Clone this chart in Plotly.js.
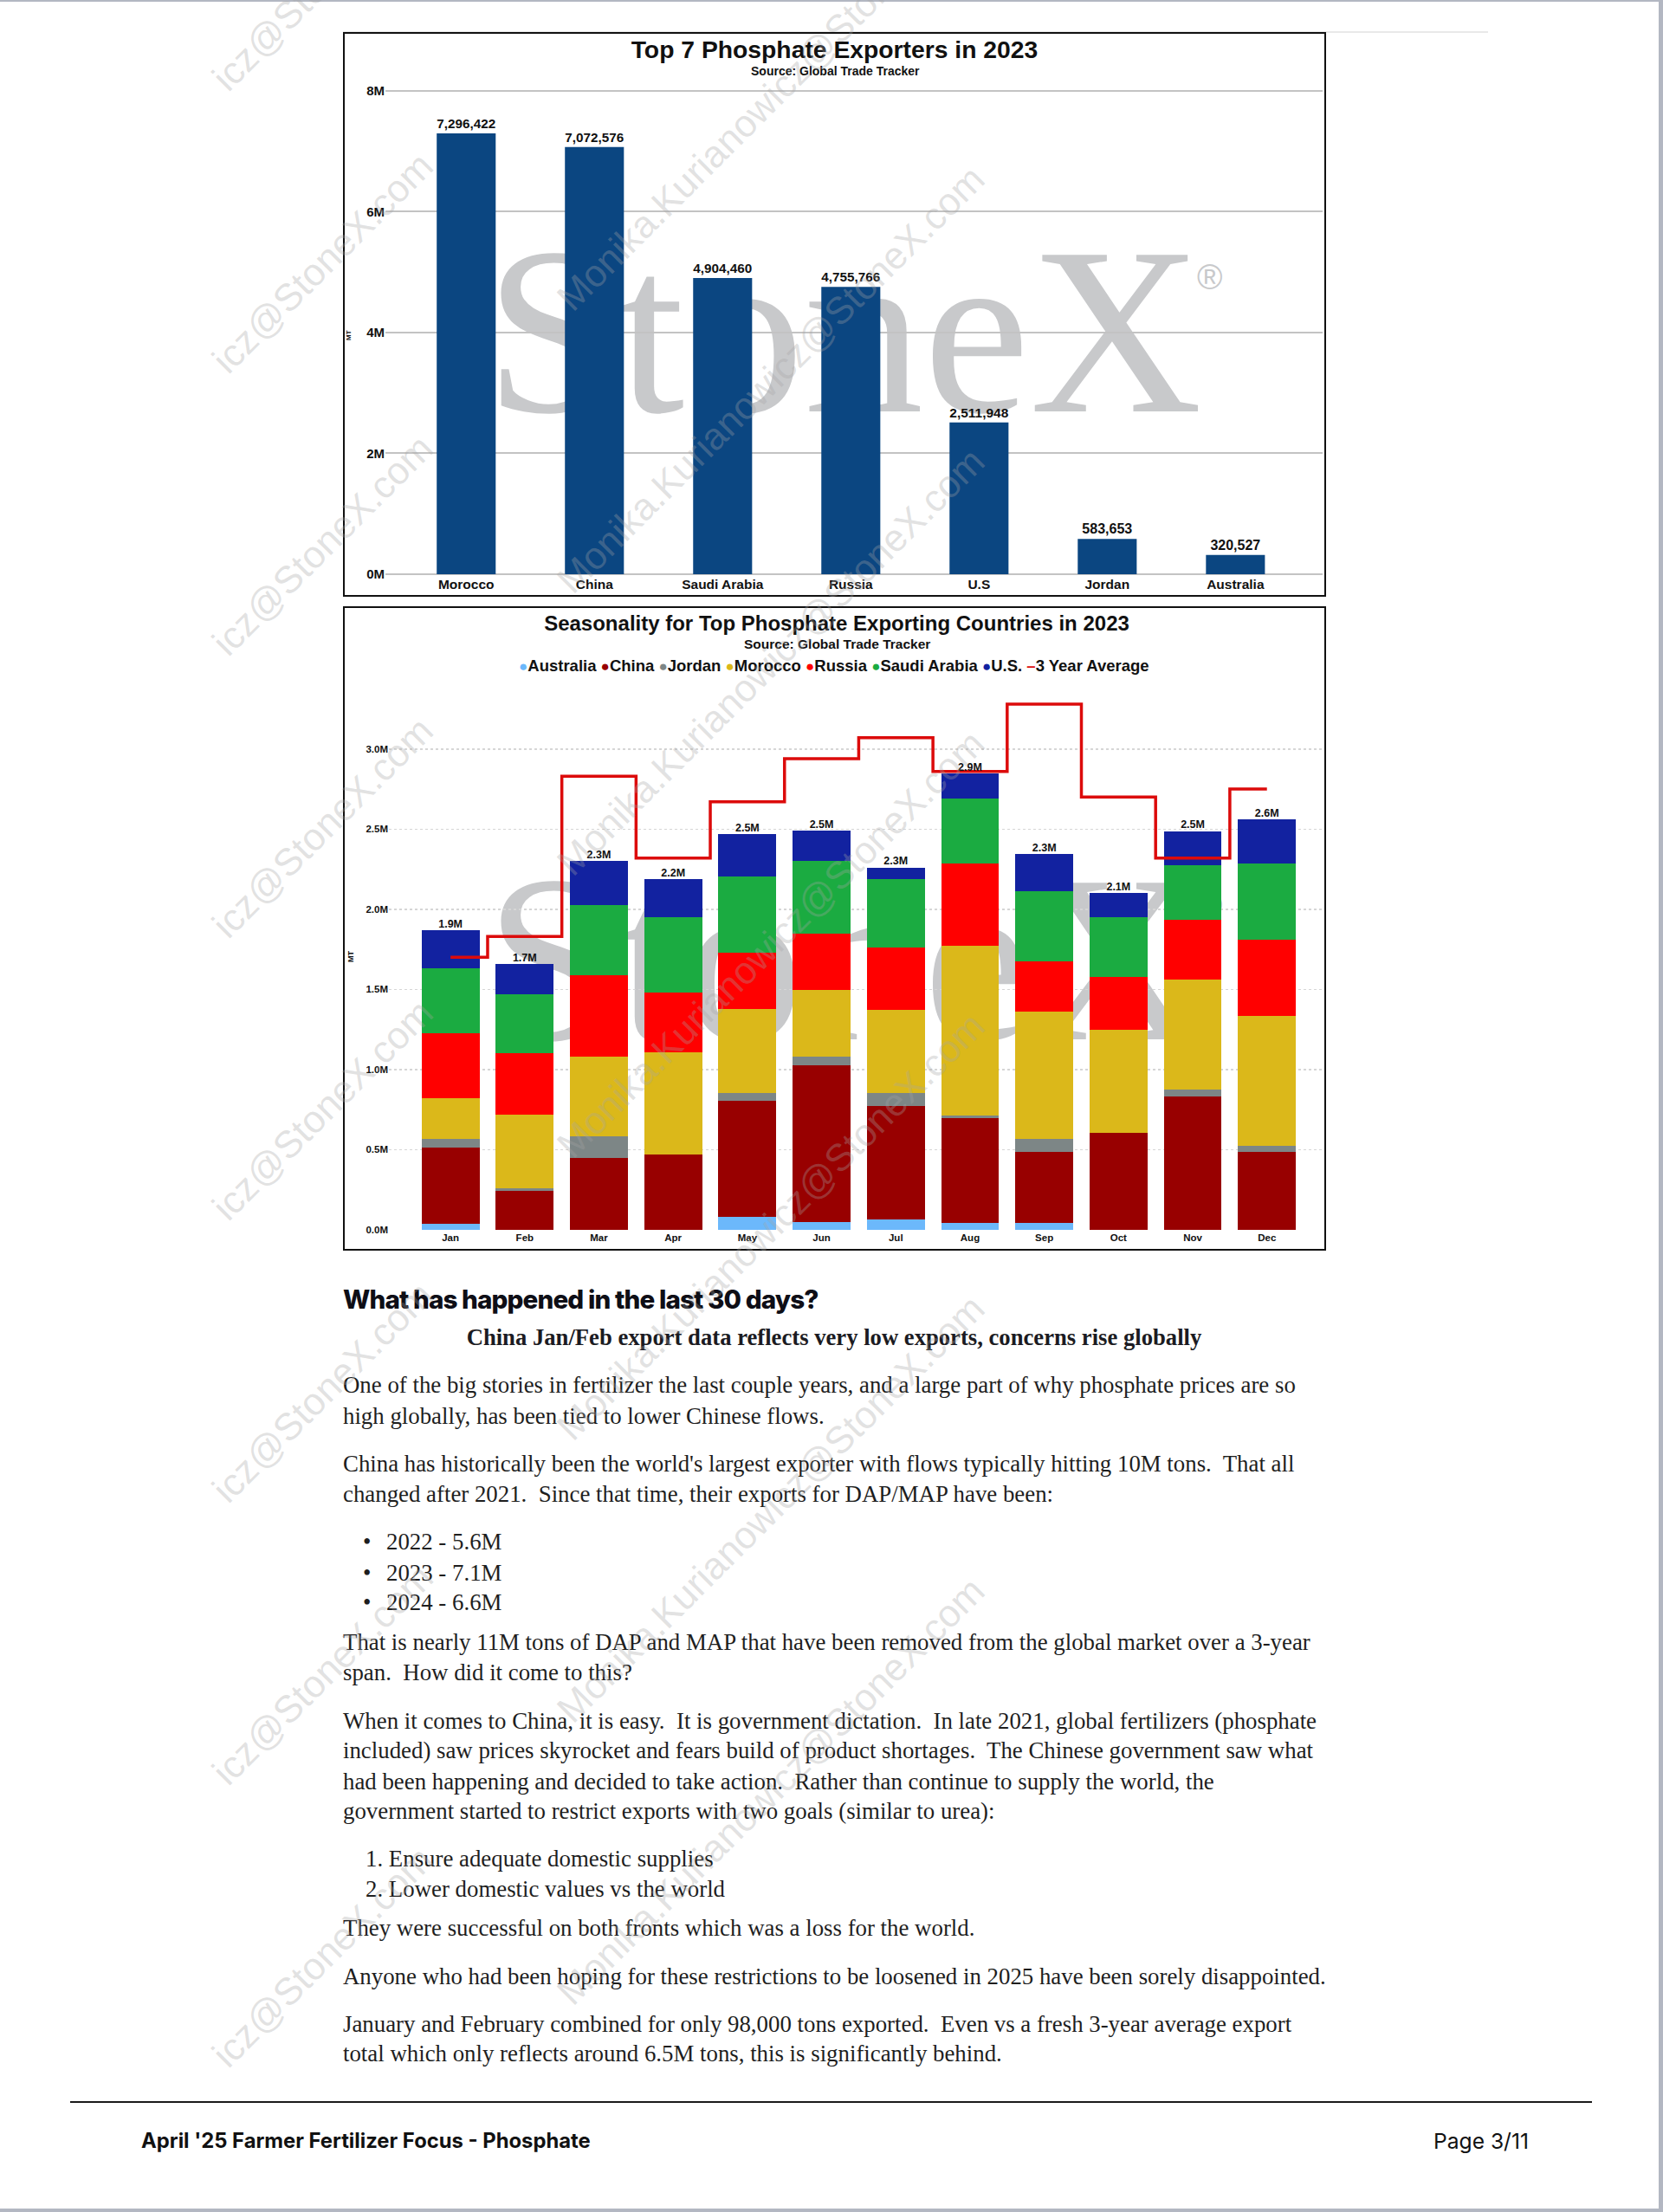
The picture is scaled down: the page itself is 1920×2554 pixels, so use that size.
<!DOCTYPE html>
<html>
<head>
<meta charset="utf-8">
<script src="https://cdn.plot.ly/plotly-3.0.1.min.js"></script>
<style>
html,body{margin:0;padding:0;background:#fff;}
body{width:1920px;height:2554px;position:relative;overflow:hidden;}
.abs{position:absolute;white-space:nowrap;}
.edge{position:absolute;background:#b3b7c2;}
.logo{position:absolute;font-family:'Liberation Serif','Times New Roman',serif;color:#c8c9cb;font-size:276px;line-height:276px;white-space:nowrap;z-index:0;}
.reg{position:absolute;font-family:'Liberation Sans',Arial,sans-serif;color:#c8c9cb;font-size:40px;line-height:40px;z-index:0;}
.plot{position:absolute;z-index:1;}
.frame{position:absolute;border:2px solid #111;box-sizing:border-box;z-index:2;pointer-events:none;}
.body{font-family:'Liberation Serif',serif;color:#1e1e1e;font-size:24px;line-height:36px;height:36px;}
#wm{position:absolute;left:0;top:0;width:1920px;height:2554px;z-index:5;pointer-events:none;}
.wmt{position:absolute;white-space:nowrap;font-family:'Liberation Sans',Arial,sans-serif;font-size:44px;line-height:50px;height:50px;color:rgba(165,165,165,0.33);transform-origin:0 50%;transform:rotate(-45deg);}
</style>
</head>
<body>
<div class="edge" style="left:0;top:0;width:1920px;height:2px;"></div>
<div class="edge" style="right:0;top:0;width:5px;height:2554px;"></div>
<div class="edge" style="left:0;bottom:0;width:1920px;height:4px;"></div>
<div style="position:absolute;left:396px;top:36px;width:1322px;height:2px;background:#e9e9e9;"></div>

<!-- StoneX logo watermarks behind charts -->
<div class="logo" style="left:560px;top:244px;">StoneX</div>
<div class="reg" style="left:1382px;top:300px;">®</div>
<div class="logo" style="left:560px;top:969px;">StoneX</div>
<div class="reg" style="left:1382px;top:1025px;">®</div>

<div id="chart1" class="plot" style="left:396px;top:37px;width:1135px;height:652px;"></div>
<div class="frame" style="left:396px;top:37px;width:1135px;height:652px;"></div>
<div id="chart2" class="plot" style="left:396px;top:700px;width:1135px;height:744px;"></div>
<div class="frame" style="left:396px;top:700px;width:1135px;height:744px;"></div>

<div id="text"></div>
<div id="wm"></div>

<div style="position:absolute;left:81px;top:2426px;width:1757px;height:2px;background:#1a1a1a;"></div>
<div id="footL" class="abs" style="left:163px;top:2458px;font-family:Inter,sans-serif;font-weight:700;font-size:22px;line-height:28px;color:#111;">April '25 Farmer Fertilizer Focus - Phosphate</div>
<div id="footR" class="abs" style="left:1655px;top:2458px;font-family:Inter,sans-serif;font-weight:400;font-size:22px;line-height:28px;color:#111;">Page 3/11</div>

<script>
// ---------- Chart 1 data ----------
const exporters = ['Morocco','China','Saudi Arabia','Russia','U.S','Jordan','Australia'];
const exportVolumes = [7296422,7072576,4904460,4755766,2511948,583653,320527];
const chart1Ticks = [0,2000000,4000000,6000000,8000000];
const chart1TickText = ['0M','2M','4M','6M','8M'];

// ---------- Chart 2 data (million MT) ----------
const months = ['Jan','Feb','Mar','Apr','May','Jun','Jul','Aug','Sep','Oct','Nov','Dec'];
const australia = [0.040,0.000,0.000,0.000,0.081,0.049,0.063,0.045,0.041,0.000,0.000,0.000];
const china     = [0.473,0.243,0.448,0.468,0.725,0.976,0.707,0.651,0.448,0.603,0.831,0.489];
const jordan    = [0.052,0.014,0.133,0.000,0.048,0.054,0.083,0.018,0.078,0.000,0.045,0.033];
const morocco   = [0.259,0.463,0.498,0.642,0.526,0.419,0.518,1.058,0.797,0.647,0.684,0.813];
const russia    = [0.405,0.383,0.509,0.370,0.351,0.351,0.392,0.516,0.313,0.329,0.377,0.477];
const saudi     = [0.404,0.369,0.439,0.472,0.473,0.454,0.428,0.401,0.437,0.369,0.339,0.473];
const usa       = [0.238,0.187,0.276,0.237,0.266,0.189,0.070,0.159,0.230,0.153,0.212,0.278];
const threeYearAvg = [1.70,1.83,2.83,2.32,2.67,2.94,3.07,2.86,3.28,2.70,2.32,2.75];
const totalLabels = ['1.9M','1.7M','2.3M','2.2M','2.5M','2.5M','2.3M','2.9M','2.3M','2.1M','2.5M','2.6M'];
const chart2Ticks = [0,0.5,1.0,1.5,2.0,2.5,3.0];
const chart2TickText = ['0.0M','0.5M','1.0M','1.5M','2.0M','2.5M','3.0M'];

const seriesNames = ['Australia','China','Jordan','Morocco','Russia','Saudi Arabia','U.S.'];
const seriesColors = ['#6cb8fb','#980000','#7d8686','#dbb81a','#ff0000','#1bab41','#1222a0'];
const seriesValues = [australia,china,jordan,morocco,russia,saudi,usa];
const avgName = '3 Year Average';
const avgColor = '#dc0b0b';

const FONT = 'Liberation Sans, Arial, Helvetica, sans-serif';
const cfg = {staticPlot:true, displayModeBar:false};

// ---------- Chart 1 ----------
(function(){
  const W=1135,H=652, l=49,r=4,t=61,b=26;
  const pw=W-l-r, ph=H-t-b;
  const trace = {
    type:'bar', x:exporters, y:exportVolumes, width:0.46,
    marker:{color:'#0b4681'},
    texttemplate:'%{y:,}', textposition:'outside', cliponaxis:false,
    textfont:{family:FONT,size:16,color:'#111',weight:700},
    hoverinfo:'skip'
  };
  const layout = {
    width:W,height:H, margin:{l:l,r:r,t:t,b:b},
    paper_bgcolor:'rgba(0,0,0,0)', plot_bgcolor:'rgba(0,0,0,0)',
    showlegend:false,
    title:{text:'Top 7 Phosphate Exporters in 2023', font:{family:FONT,size:28.3,color:'#111',weight:700},
           xref:'container', x:0.5, yref:'container', y:1-20/H, yanchor:'middle'},
    xaxis:{range:[-0.63,6.68], showgrid:false, showline:false, zeroline:false, ticks:'',
           tickfont:{family:FONT,size:15.5,color:'#111',weight:700}},
    yaxis:{range:[0,8100000], tickvals:chart1Ticks, ticktext:chart1TickText,
           gridcolor:'#c3c3c3', gridwidth:2, zeroline:true, zerolinecolor:'#c3c3c3', zerolinewidth:2,
           showline:false, ticks:'', tickfont:{family:FONT,size:15,color:'#111',weight:700}},
    annotations:[
      {text:'Source: Global Trade Tracker', xref:'paper', yref:'paper', x:(964-445)/pw, y:(663-82)/ph,
       xanchor:'center', yanchor:'middle', showarrow:false, font:{family:FONT,size:14,color:'#111',weight:700}},
      {text:'MT', xref:'paper', yref:'paper', x:(402-445)/pw, y:(663-387)/ph, textangle:-90,
       xanchor:'center', yanchor:'middle', showarrow:false, font:{family:FONT,size:8,color:'#111',weight:700}}
    ]
  };
  Plotly.newPlot('chart1',[trace],layout,cfg);
})();

// ---------- Chart 2 ----------
(function(){
  const W=1135,H=744, l=53,r=4,t=100,b=24;
  const pw=W-l-r, ph=H-t-b;
  const traces = seriesValues.map((vals,i)=>({
    type:'bar', name:seriesNames[i], x:months, y:vals, width:0.78,
    marker:{color:seriesColors[i]}, hoverinfo:'skip'
  }));
  traces.push({type:'scatter', mode:'lines', name:avgName, x:months, y:threeYearAvg,
    line:{color:avgColor,width:3.5,shape:'hvh'}, hoverinfo:'skip'});
  const totals = months.map((m,j)=>seriesValues.reduce((s,a)=>s+a[j],0));
  traces.push({type:'scatter', mode:'text', x:months, y:totals, text:totalLabels,
    textposition:'top center', cliponaxis:false,
    textfont:{family:FONT,size:12.5,color:'#111',weight:700}, hoverinfo:'skip'});

  const legendText = seriesNames.map((n,i)=>`<span style="color:${seriesColors[i]};font-size:17px">●</span>${n}`).join(' ')
     + ` <span style="color:${avgColor}">–</span>${avgName}`;

  const layout = {
    width:W,height:H, margin:{l:l,r:r,t:t,b:b},
    paper_bgcolor:'rgba(0,0,0,0)', plot_bgcolor:'rgba(0,0,0,0)',
    showlegend:false, barmode:'stack',
    title:{text:'Seasonality for Top Phosphate Exporting Countries in 2023', font:{family:FONT,size:24,color:'#111',weight:700},
           xref:'container', x:(966-396)/W, yref:'container', y:1-20/H, yanchor:'middle'},
    xaxis:{range:[-0.83,11.75], showgrid:false, showline:false, zeroline:false, ticks:'',
           tickfont:{family:FONT,size:11.5,color:'#111',weight:700}},
    yaxis:{range:[0,3.35], tickvals:chart2Ticks, ticktext:chart2TickText,
           gridcolor:'#d6d6d6', gridwidth:1.5, griddash:'dot', zeroline:false,
           showline:false, ticks:'', tickfont:{family:FONT,size:11.5,color:'#111',weight:700}},
    annotations:[
      {text:'Source: Global Trade Tracker', xref:'paper', yref:'paper', x:(966-449)/pw, y:(1420-744)/ph,
       xanchor:'center', yanchor:'middle', showarrow:false, font:{family:FONT,size:15.5,color:'#111',weight:700}},
      {text:legendText, xref:'paper', yref:'paper', x:(963-449)/pw, y:(1420-769)/ph,
       xanchor:'center', yanchor:'middle', showarrow:false, font:{family:FONT,size:18.5,color:'#111',weight:700}},
      {text:'MT', xref:'paper', yref:'paper', x:(405-449)/pw, y:(1420-1105)/ph, textangle:-90,
       xanchor:'center', yanchor:'middle', showarrow:false, font:{family:FONT,size:9,color:'#111',weight:700}}
    ]
  };
  Plotly.newPlot('chart2',traces,layout,cfg);
})();

// ---------- Article text ----------
const heading = {t:'What has happened in the last 30 days?', y:1500, x:396, w:549};
const subheading = {t:'China Jan/Feb export data reflects very low exports, concerns rise globally', y:1544, cx:963, w:849};
const bodyLines = [
 {t:"One of the big stories in fertilizer the last couple years, and a large part of why phosphate prices are so", y:1599},
 {t:"high globally, has been tied to lower Chinese flows.", y:1635},
 {t:"China has historically been the world's largest exporter with flows typically hitting 10M tons.\u00a0 That all", y:1690},
 {t:"changed after 2021.\u00a0 Since that time, their exports for DAP/MAP have been:", y:1725},
 {t:"2022 - 5.6M", y:1780, x:446, bullet:true},
 {t:"2023 - 7.1M", y:1816, x:446, bullet:true},
 {t:"2024 - 6.6M", y:1850, x:446, bullet:true},
 {t:"That is nearly 11M tons of DAP and MAP that have been removed from the global market over a 3-year", y:1896},
 {t:"span.\u00a0 How did it come to this?", y:1931},
 {t:"When it comes to China, it is easy.\u00a0 It is government dictation.\u00a0 In late 2021, global fertilizers (phosphate", y:1987},
 {t:"included) saw prices skyrocket and fears build of product shortages.\u00a0 The Chinese government saw what", y:2021},
 {t:"had been happening and decided to take action.\u00a0 Rather than continue to supply the world, the", y:2057},
 {t:"government started to restrict exports with two goals (similar to urea):", y:2091},
 {t:"1. Ensure adequate domestic supplies", y:2146, x:422},
 {t:"2. Lower domestic values vs the world", y:2181, x:422},
 {t:"They were successful on both fronts which was a loss for the world.", y:2226},
 {t:"Anyone who had been hoping for these restrictions to be loosened in 2025 have been sorely disappointed.", y:2282, ref:1135},
 {t:"January and February combined for only 98,000 tons exported.\u00a0 Even vs a fresh 3-year average export", y:2337},
 {t:"total which only reflects around 6.5M tons, this is significantly behind.", y:2371}
];
const watermarkText = 'Monika.Kurianowicz@StoneX.com';
const watermarkTail = 'icz@StoneX.com';

(function(){
  const host = document.getElementById('text');
  function mk(txt, css){ const d=document.createElement('div'); d.className='abs'; d.textContent=txt; d.style.cssText+=css; host.appendChild(d); return d; }
  function fit(el,target){ const w=el.getBoundingClientRect().width; const fs=parseFloat(getComputedStyle(el).fontSize); const nf=fs*target/w; el.style.fontSize=nf+'px'; return nf; }

  const h = mk(heading.t, `left:${heading.x}px;top:${heading.y-18}px;font-family:Inter,sans-serif;font-weight:800;font-size:24px;line-height:36px;letter-spacing:-0.03em;color:#0e0e16;`);
  fit(h, heading.w);
  const s = mk(subheading.t, `top:${subheading.y-18}px;font-family:'Liberation Serif',serif;font-weight:700;font-size:22px;line-height:36px;color:#1b1b22;`);
  fit(s, subheading.w);
  s.style.left = (subheading.cx - s.getBoundingClientRect().width/2)+'px';

  const els = bodyLines.map(L=>{
    const el = mk(L.t, `left:${L.x||396}px;top:${L.y-18}px;`);
    el.classList.add('body');
    return el;
  });
  const refIdx = bodyLines.findIndex(L=>L.ref);
  const fs = fit(els[refIdx], bodyLines[refIdx].ref);
  els.forEach(e=>e.style.fontSize=fs+'px');
  bodyLines.forEach(L=>{ if(L.bullet){ const b=mk('•', `left:419px;top:${L.y-18}px;`); b.classList.add('body'); b.style.fontSize=fs+'px'; }});

  fit(document.getElementById('footL'), 519);
  fit(document.getElementById('footR'), 110);

  // diagonal e-mail watermark along 45° lines; the left column only shows its tail
  const wm = document.getElementById('wm');
  const measure = (t)=>{ const d=document.createElement('div'); d.className='wmt'; d.style.transform='none'; d.textContent=t; wm.appendChild(d); const w=d.getBoundingClientRect().width; wm.removeChild(d); return w; };
  const headW = measure(watermarkText.replace(watermarkTail,''));
  const leftX0 = headW/Math.SQRT2 + 14;
  function place(txt, x0, y0){
    const d=document.createElement('div'); d.className='wmt'; d.textContent=txt;
    d.style.left=x0+'px'; d.style.top=(y0-25)+'px'; wm.appendChild(d);
  }
  for(let k=0;k<14;k++){
    const sum = 24 + 326*k;           // x + y of the text's centre line (page px)
    const yl = sum - leftX0;
    if(yl > 60 && yl < 2420) place(watermarkTail, leftX0, yl);
    const ym = sum - 651;
    if(ym > 60 && ym < 2420) place(watermarkText, 651, ym);
  }
})();
</script>
</body>
</html>
